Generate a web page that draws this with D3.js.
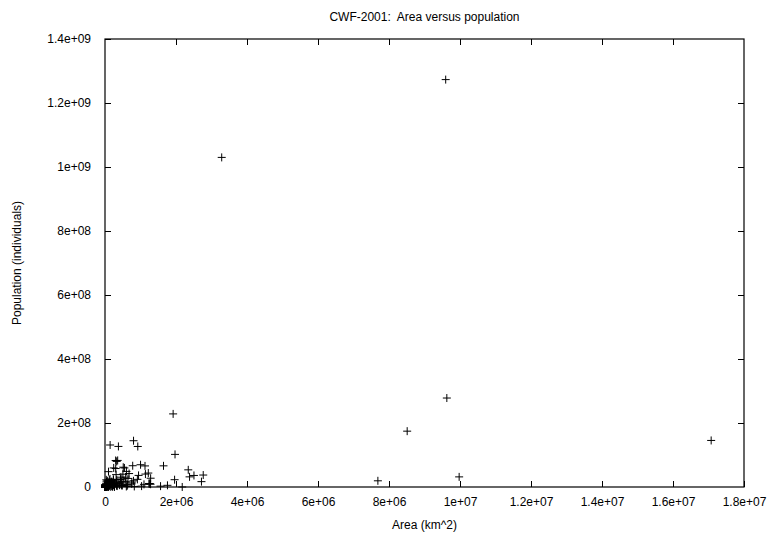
<!DOCTYPE html>
<html lang="en">
<head>
<meta charset="UTF-8">
<title>CWF-2001: Area versus population</title>
<script src="https://cdnjs.cloudflare.com/ajax/libs/d3/7.8.5/d3.min.js"></script>
<style>
  body { margin: 0; background: #fff; font-family: "Liberation Sans", Arial, sans-serif; }
  svg text { font-size: 12px; fill: #000; }
</style>
</head>
<body>
<div id="chart"></div>
<script>
// CIA World Factbook 2001
const countries = ["Afghanistan","Albania","Algeria","American Samoa","Andorra","Angola","Anguilla","Antigua","Argentina","Armenia","Aruba","Australia","Austria","Azerbaijan","Bahamas","Bahrain","Bangladesh","Barbados","Belarus","Belgium","Belize","Benin","Bermuda","Bhutan","Bolivia","Bosnia","Botswana","Brazil","Brunei","Bulgaria","Burkina Faso","Burma","Burundi","Cambodia","Cameroon","Canada","Cape Verde","Cayman Islands","Central African Rep.","Chad","Chile","China","Colombia","Comoros","Congo (DR)","Congo (Rep.)","Costa Rica","Cote d'Ivoire","Croatia","Cuba","Cyprus","Czech Republic","Denmark","Djibouti","Dominica","Dominican Rep.","Ecuador","Egypt","El Salvador","Equatorial Guinea","Eritrea","Estonia","Ethiopia","Fiji","Finland","France","French Guiana","French Polynesia","Gabon","Gambia","Georgia","Germany","Ghana","Greece","Greenland","Grenada","Guadeloupe","Guam","Guatemala","Guinea","Guinea-Bissau","Guyana","Haiti","Honduras","Hong Kong","Hungary","Iceland","India","Indonesia","Iran","Iraq","Ireland","Israel","Italy","Jamaica","Japan","Jordan","Kazakhstan","Kenya","Kiribati","Korea, North","Korea, South","Kuwait","Kyrgyzstan","Laos","Latvia","Lebanon","Lesotho","Liberia","Libya","Liechtenstein","Lithuania","Luxembourg","Macedonia","Madagascar","Malawi","Malaysia","Maldives","Mali","Malta","Mauritania","Mauritius","Mexico","Moldova","Mongolia","Morocco","Mozambique","Namibia","Nepal","Netherlands","New Caledonia","New Zealand","Nicaragua","Niger","Nigeria","Norway","Oman","Pakistan","Panama","Papua New Guinea","Paraguay","Peru","Philippines","Poland","Portugal","Puerto Rico","Qatar","Reunion","Romania","Russia","Rwanda","Saudi Arabia","Senegal","Sierra Leone","Singapore","Slovakia","Slovenia","Solomon Islands","Somalia","South Africa","Spain","Sri Lanka","Sudan","Suriname","Swaziland","Sweden","Switzerland","Syria","Taiwan","Tajikistan","Tanzania","Thailand","Togo","Trinidad and Tobago","Tunisia","Turkey","Turkmenistan","Uganda","Ukraine","United Arab Emirates","United Kingdom","United States","Uruguay","Uzbekistan","Venezuela","Vietnam","Yemen","Yugoslavia","Zambia","Zimbabwe","Western Sahara","Falkland Islands","Vanuatu","Samoa","Tonga","Micronesia","Marshall Islands","Palau","Seychelles","Sao Tome","Saint Lucia","Saint Vincent","Saint Kitts","Monaco","San Marino","Nauru","Tuvalu","Macau","Martinique","Mayotte","Netherlands Antilles","Faroe Islands","Gibraltar","Gaza Strip","West Bank","East Timor","Svalbard"];

const areaKm2 = [647500,28748,2381740,199,468,1246700,102,442,2766890,29800,193,7686850,83858,86600,13940,620,144000,430,207600,30510,22966,112620,53,47000,1098580,51129,600370,8511965,5770,110910,274200,678500,27830,181040,475440,9976140,4030,262,622984,1284000,756950,9596960,1138910,2170,2345410,342000,51100,322460,56542,110860,9250,78866,43094,23000,754,48730,283560,1001450,21040,28051,121320,45226,1127127,18270,337030,547030,91000,4167,267667,11300,69700,357021,238540,131940,2175600,340,1780,541,108890,245857,36120,214970,27750,112090,1092,93030,103000,3287590,1919440,1648000,437072,70280,20770,301230,10990,377835,92300,2717300,582650,717,120540,98480,17820,198500,236800,64589,10400,30355,111370,1759540,160,65200,2586,25333,587040,118480,329750,300,1240000,316,1030700,2040,1972550,33843,1565000,446550,801590,825418,140800,41526,19060,268680,129494,1267000,923768,324220,212460,803940,78200,462840,406750,1285220,300000,312685,92391,9104,11437,2512,237500,17075200,26338,1960582,196190,71740,648,48845,20253,28450,637657,1219912,504782,65610,2505810,163270,17363,449964,41290,185180,35980,143100,945087,514000,56785,5128,163610,780580,488100,236040,603700,82880,244820,9629091,176220,447400,912050,329560,527970,102350,752614,390580,266000,12173,14760,2860,748,702,181,458,455,1001,620,389,261,2,61,21,26,25,1100,374,960,1399,7,360,5860,15007,62049];

const population = [26813057,3510484,31736053,67084,67627,10366031,12132,66464,37384816,3336100,70007,19357594,8150835,7771092,297852,645361,131269860,275330,10350194,10258762,256062,6590782,63503,2049412,8300463,3922205,1586119,174468575,343653,7707495,12272289,41994678,6223897,12491501,15803220,31592805,405163,35527,3576884,8707078,15328467,1273111290,40349388,596202,53624718,2894336,3773057,16393221,4334142,11184023,762887,10264212,5352815,460700,70786,8581477,13183978,69536644,6237662,486060,4298269,1423316,65891874,844330,5175783,59551227,177562,253506,1221175,1411205,4989285,83029536,19894014,10623835,56352,89227,431170,157557,12974361,7613870,1315822,697181,6964549,6406052,7210505,10106017,277906,1029991145,228437870,66128965,23331985,3840838,5938093,57679825,2665636,126771662,5153378,16731303,30765916,94149,21968228,47904370,2041961,4753003,5635967,2385231,3627774,2177062,3225837,5240599,32528,3610535,442972,2046209,15982563,10548250,22229040,310764,11008518,394583,2747312,1189825,101879171,4431570,2654999,30645305,19371057,1797677,25284463,15981472,204863,3864129,4918393,10355156,126635626,4503440,2622198,144616639,2845647,5049055,5734139,27483864,82841518,38633912,10066253,3937316,769152,732570,22364022,145470197,7312756,22757092,10284929,5426618,4300419,5414937,1930132,480442,7488773,43586097,40037995,19408635,36080373,433998,1104343,8875053,7283274,16728808,22370461,6578681,36232074,61797751,5153088,1169682,9705102,66493970,4603244,23985712,48760474,2407460,59647790,278058881,3360105,25155064,23916810,79939014,18078035,10677290,9770199,11365366,250559,2895,192910,179466,104227,134597,70822,19092,79326,165034,158178,115942,38756,31842,27336,12088,10991,453733,418454,163366,212226,45661,27649,1178119,2090713,737811,2868];

const xTicks = [0,2e6,4e6,6e6,8e6,1e7,1.2e7,1.4e7,1.6e7,1.8e7];
const xTickLabels = ["0","2e+06","4e+06","6e+06","8e+06","1e+07","1.2e+07","1.4e+07","1.6e+07","1.8e+07"];
const yTicks = [0,2e8,4e8,6e8,8e8,1e9,1.2e9,1.4e9];
const yTickLabels = ["0","2e+08","4e+08","6e+08","8e+08","1e+09","1.2e+09","1.4e+09"];

const width = 772, height = 533;
const margin = {top: 39, right: 28, bottom: 46, left: 105};
const plotW = width - margin.left - margin.right;
const plotH = height - margin.top - margin.bottom;
const tickLen = 6;

const svg = d3.select("#chart").append("svg")
  .attr("width", width).attr("height", height);

const x = d3.scaleLinear().domain([0, 1.8e7]).range([margin.left, margin.left + plotW]);
const y = d3.scaleLinear().domain([0, 1.4e9]).range([margin.top + plotH, margin.top]);

// Axes, gnuplot style: ticks inward and mirrored
const xAxisB = d3.axisBottom(x).tickValues(xTicks).tickSizeInner(-tickLen).tickSizeOuter(0)
  .tickPadding(10).tickFormat((d, i) => xTickLabels[i]);
const xAxisT = d3.axisTop(x).tickValues(xTicks.slice(1, -1)).tickSizeInner(-tickLen).tickSizeOuter(0)
  .tickFormat("");
const yAxisL = d3.axisLeft(y).tickValues(yTicks).tickSizeInner(-tickLen).tickSizeOuter(0)
  .tickPadding(tickLen + 8).tickFormat((d, i) => yTickLabels[i]);
const yAxisR = d3.axisRight(y).tickValues(yTicks.slice(1, -1)).tickSizeInner(-tickLen).tickSizeOuter(0)
  .tickFormat("");

svg.append("g").attr("transform", `translate(0,${margin.top + plotH})`).call(xAxisB);
svg.append("g").attr("transform", `translate(0,${margin.top})`).call(xAxisT);
svg.append("g").attr("transform", `translate(${margin.left},0)`).call(yAxisL);
svg.append("g").attr("transform", `translate(${margin.left + plotW},0)`).call(yAxisR);

svg.selectAll(".domain").remove();
svg.selectAll(".tick line").attr("stroke", "#000");
svg.selectAll(".tick text").attr("font-family", "Liberation Sans, Arial, sans-serif")
  .attr("font-size", 12).attr("fill", "#000");

// frame
svg.append("rect")
  .attr("x", margin.left).attr("y", margin.top)
  .attr("width", plotW).attr("height", plotH)
  .attr("fill", "none").attr("stroke", "#000").attr("stroke-width", 1.2);

// points as "+" markers
const s = 4;
svg.append("g").selectAll("path")
  .data(d3.range(countries.length))
  .join("path")
  .attr("d", i => {
    const px = x(areaKm2[i]), py = y(population[i]);
    return `M${px - s},${py}H${px + s}M${px},${py - s}V${py + s}`;
  })
  .attr("stroke", "#000").attr("stroke-width", 1).attr("fill", "none");

// titles
svg.append("text").attr("x", margin.left + plotW / 2).attr("y", 21)
  .attr("text-anchor", "middle").attr("xml:space", "preserve").text("CWF-2001:  Area versus population");
svg.append("text").attr("x", margin.left + plotW / 2).attr("y", 529)
  .attr("text-anchor", "middle").text("Area (km^2)");
svg.append("text").attr("transform", `translate(21,${margin.top + plotH / 2}) rotate(-90)`)
  .attr("text-anchor", "middle").text("Population (individuals)");
</script>
</body>
</html>
